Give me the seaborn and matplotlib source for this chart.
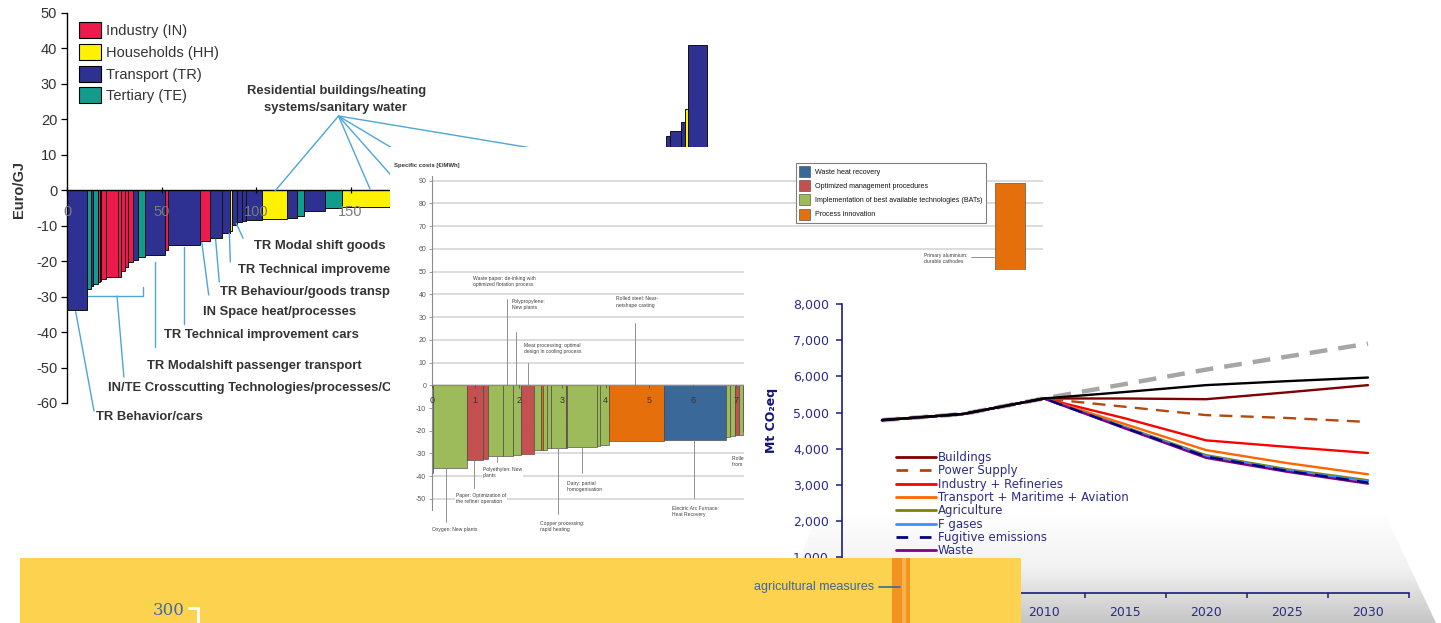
import numpy as np
import pandas as pd
import matplotlib
matplotlib.use("Agg")
import matplotlib.pyplot as plt
import matplotlib.transforms as mtransforms
from matplotlib.patches import Patch, Rectangle, Polygon
from matplotlib.lines import Line2D
from matplotlib.colors import LinearSegmentedColormap
import seaborn as sns

# ---------------- Panel A: sector cost curve (Euro/GJ) ----------------
macc_sector = ["TR", "TE", "TR", "TE", "IN", "HH", "IN", "IN", "IN", "IN", "IN", "IN",
               "TR", "TE", "TR", "IN", "TR", "IN", "TR", "TR", "HH", "TR", "TR", "TR",
               "TR", "HH", "TR", "TE", "TR", "TE", "HH",
               "TR", "IN", "HH", "TE", "TR", "HH", "IN", "TR",
               "TR", "TR", "TR", "HH", "TR"]
macc_potential = [10.5, 2.0, 1.4, 2.3, 1.3, 0.7, 2.5, 6.2, 1.7, 2.3, 1.2, 3.0,
                  2.3, 4.1, 10.1, 2.0, 16.8, 5.3, 6.1, 4.4, 1.3, 2.2, 2.7, 2.1,
                  8.8, 12.9, 5.3, 4.1, 10.9, 8.8, 34.0,
                  20.0, 15.0, 25.0, 18.0, 20.0, 15.0, 12.0, 12.7,
                  2.0, 5.7, 2.4, 1.5, 9.9]
macc_cost = [-33.8, -27.9, -27.0, -26.3, -26.0, -25.5, -25.1, -24.6, -24.4, -22.9, -21.5, -20.2,
             -19.6, -18.8, -18.3, -16.9, -15.5, -14.2, -13.4, -12.0, -11.5, -9.8, -9.0, -8.7,
             -8.5, -8.2, -7.8, -7.2, -5.9, -5.0, -4.6,
             -3.0, -1.5, 0.8, 2.5, 4.5, 6.5, 8.5, 11.0,
             15.2, 16.6, 19.2, 22.8, 41.1]
sector_order = ["IN", "HH", "TR", "TE"]
sector_names = {"IN": "Industry (IN)", "HH": "Households (HH)",
                "TR": "Transport (TR)", "TE": "Tertiary (TE)"}
sector_colors = {"IN": "#EC1A4D", "HH": "#FFF200", "TR": "#2E3192", "TE": "#129C8C"}
macc_xticks = [0, 50, 100, 150, 200, 250, 300]
macc_yticks = list(range(-60, 51, 10))

# ---------------- Panel B: industrial efficiency measures (EUR/MWh) ----------------
eff_measure = ["OMP", "BAT", "OMP", "OMP", "BAT", "BAT", "BAT", "OMP", "BAT", "PI", "BAT", "BAT",
               "BAT", "OMP", "BAT", "BAT", "BAT", "PI", "WHR", "BAT", "BAT", "OMP", "BAT",
               "BAT", "OMP", "BAT", "WHR", "BAT", "OMP", "BAT", "PI",
               "PI"]
eff_potential = [0.02, 0.78, 0.37, 0.13, 0.33, 0.23, 0.19, 0.30, 0.17, 0.05, 0.07, 0.10,
                 0.34, 0.04, 0.67, 0.08, 0.21, 1.26, 1.43, 0.09, 0.11, 0.10, 0.09,
                 0.80, 0.60, 0.90, 0.70, 0.80, 0.60, 0.70, 0.68,
                 0.70]
eff_cost = [-38.8, -36.2, -32.9, -32.4, -31.1, -31.1, -30.7, -30.2, -28.5, -28.5, -28.3, -27.7,
            -27.4, -27.4, -27.2, -26.7, -26.3, -24.5, -24.1, -22.6, -22.4, -21.9, -21.7,
            -20.0, -15.0, -10.0, -4.0, 3.0, 12.0, 25.0, 40.0,
            88.8]
measure_order = ["WHR", "OMP", "BAT", "PI"]
measure_names = {"WHR": "Waste heat recovery", "OMP": "Optimized management procedures",
                 "BAT": "Implementation of best available technologies (BATs)",
                 "PI": "Process innovation"}
measure_colors = {"WHR": "#3A6898", "OMP": "#C4504F", "BAT": "#9DBB5A", "PI": "#E5700B"}
eff_xticks = list(range(0, 15))
eff_yticks = list(range(-50, 91, 10))

# ---------------- Panel C: emission pathways (Mt CO2eq) ----------------
years = [2000, 2005, 2010, 2015, 2020, 2025, 2030]
emis_bau = [4790, 4960, 5390, 5790, 6190, 6550, 6910]
emis_reference = [4790, 4960, 5390, 5570, 5760, 5870, 5970]
emis_buildings = [4790, 4960, 5390, 5390, 5370, 5560, 5760]
emis_power = [4790, 4960, 5390, 5160, 4930, 4850, 4740]
emis_industry = [4790, 4960, 5390, 4840, 4230, 4050, 3880]
emis_transport = [4790, 4960, 5390, 4680, 3960, 3600, 3290]
emis_agriculture = [4790, 4960, 5390, 4600, 3820, 3430, 3125]
emis_fgases = [4790, 4960, 5390, 4585, 3790, 3400, 3090]
emis_fugitive = [4790, 4960, 5390, 4575, 3780, 3385, 3060]
emis_waste = [4790, 4960, 5390, 4560, 3745, 3360, 3030]
wedge_labels = ["Buildings", "Power Supply", "Industry + Refineries",
                "Transport + Maritime + Aviation", "Agriculture", "F gases",
                "Fugitive emissions", "Waste"]
wedge_colors = ["#800000", "#B04A0E", "#FF0000", "#FF6600", "#838300", "#3D8EFF",
                "#000080", "#800080"]
wedge_dashed = [False, True, False, False, False, False, True, False]
emis_yticks = list(range(0, 8001, 1000))

# ---------------- Panel D: agricultural measures strip ----------------
agri_left = [84.36, 85.50, 85.99]
agri_width = [1.14, 0.49, 0.52]
agri_height = [420, 420, 420]
agri_colors = ["#F39320", "#FBB24C", "#F39320"]

# ======================================================================
W, H = 1441, 623
sns.set_theme(style="white")
plt.rcParams['font.family'] = ['Liberation Sans', 'DejaVu Sans']
plt.rcParams['axes.unicode_minus'] = False

fig = plt.figure(figsize=(W / 100, H / 100), dpi=100)
fig.patch.set_facecolor('white')


def rect(x0, y0, x1, y1):
    return [x0 / W, 1 - y1 / H, (x1 - x0) / W, (y1 - y0) / H]


# pixel-layout transform (origin top-left) for annotations
pix = mtransforms.Affine2D().scale(1.0 / W, -1.0 / H).translate(0, 1) + fig.transFigure


def background(x0, y0, x1, y1, color):
    ax = fig.add_axes(rect(x0, y0, x1, y1))
    ax.axis('off')
    ax.add_patch(Rectangle((0, 0), 1, 1, transform=ax.transAxes,
                           facecolor=color, edgecolor='none', zorder=0))
    return ax


def seg(ax, x0, y0, x1, y1, **kw):
    ax.add_artist(Line2D([x0, x1], [y0, y1], transform=pix, clip_on=False, **kw))


# ----------------------------- Panel A ---------------------------------
axA = fig.add_axes(rect(67, 13, 720, 403))
axA.set_facecolor('white')
axA.set_axisbelow(False)
startsA = np.concatenate([[0], np.cumsum(macc_potential)[:-1]])
axA.bar(startsA, macc_cost, width=macc_potential, align='edge',
        color=[sector_colors[s] for s in macc_sector], edgecolor='#111111',
        linewidth=0.7, zorder=1)
axA.set_xlim(0, (720 - 67) / 1.89)
axA.set_ylim(-60, 50)
sns.despine(ax=axA)
axA.spines['bottom'].set_position(('data', 0))
for s in ['left', 'bottom']:
    axA.spines[s].set_color('black')
    axA.spines[s].set_linewidth(1.0)
axA.set_yticks(macc_yticks)
axA.set_xticks(macc_xticks)
axA.tick_params(axis='y', left=True, direction='out', length=4.5, width=0.9,
                color='black', labelsize=10.5, labelcolor='#333333', pad=2.5)
axA.tick_params(axis='x', bottom=True, direction='inout', length=4, width=0.9,
                color='black', labelsize=10.5, labelcolor='#7A7A7A', pad=8.5)
axA.set_ylabel('Euro/GJ', fontsize=10.5, fontweight='bold', color='#333333')
axA.yaxis.set_label_coords((25.5 - 67) / 653, (403 - 190) / 390)

handlesA = [Patch(facecolor=sector_colors[s], edgecolor='black', linewidth=0.8,
                  label=sector_names[s]) for s in sector_order]
legA = axA.legend(handles=handlesA, loc='upper left', bbox_to_anchor=(79 / W, 1 - 22 / H),
                  bbox_transform=fig.transFigure, frameon=False, fontsize=10.5,
                  handlelength=1.5, handleheight=1.31, handletextpad=0.35,
                  labelspacing=0.40, borderpad=0, borderaxespad=0)
for t in legA.get_texts():
    t.set_color('#333333')

lab = dict(fontsize=9.4, fontweight='bold', color='#333333', transform=pix,
           clip_on=False, va='center')
axA.text(337, 91, 'Residential buildings/heating', ha='center', **lab)
axA.text(336, 107.5, 'systems/sanitary water', ha='center', **lab)
for x, y, s in [(254.5, 246, 'TR Modal shift goods'),
                (237.5, 269.5, 'TR Technical improvement trucks'),
                (220, 292.5, 'TR Behaviour/goods transport'),
                (203, 312, 'IN Space heat/processes'),
                (164, 335, 'TR Technical improvement cars'),
                (147, 366, 'TR Modalshift passenger transport'),
                (108.5, 388.5, 'IN/TE Crosscutting Technologies/processes/Cogeneration'),
                (96.5, 417, 'TR Behavior/cars')]:
    axA.text(x, y, s, ha='left', **lab)

blue_line = dict(color='#4DA6D6', lw=1.0, zorder=4)
for (x1, y1) in [(275, 191), (370, 189), (405, 191), (464, 191), (640, 166)]:
    seg(axA, 338.5, 116, x1, y1, **blue_line)
for (x0, y0, x1, y1) in [(75.7, 311.7, 94, 411),
                         (88, 296, 142.5, 296), (142.5, 296, 142.5, 286.5),
                         (117, 296, 123.9, 377),
                         (154.5, 261.7, 154.5, 347),
                         (183.5, 247.3, 183.5, 323.5),
                         (201.8, 242.3, 208.7, 295),
                         (215.6, 239.3, 219.3, 282),
                         (229.4, 233.3, 230.3, 262),
                         (236.2, 223.3, 243.1, 238.3)]:
    seg(axA, x0, y0, x1, y1, **blue_line)

# ----------------------------- Panel B ---------------------------------
bgB = background(390, 147, 1043, 558, 'white')
axB = fig.add_axes(rect(431.7, 176.2, 1043, 510.3))
axB.set_facecolor('none')
axB.set_axisbelow(False)
for v in eff_yticks:
    axB.axhline(v, color='#D9D9D9', lw=1.3, zorder=0)
startsB = np.concatenate([[0], np.cumsum(eff_potential)[:-1]])
axB.bar(startsB, eff_cost, width=eff_potential, align='edge',
        color=[measure_colors[m] for m in eff_measure], edgecolor='#3A3A3A',
        linewidth=0.4, zorder=1)
axB.set_xlim(0, (1043 - 431.7) / 43.5)
axB.set_ylim(-55, 92)
sns.despine(ax=axB)
axB.spines['bottom'].set_position(('data', 0))
for s in ['left', 'bottom']:
    axB.spines[s].set_color('#8C8C8C')
    axB.spines[s].set_linewidth(0.8)
axB.set_yticks(eff_yticks)
axB.set_xticks(eff_xticks)
axB.tick_params(axis='y', left=True, direction='out', length=2, width=0.6,
                color='#8C8C8C', labelsize=5, labelcolor='#555555', pad=2)
axB.tick_params(axis='x', bottom=True, direction='out', length=2, width=0.6,
                color='#555555', labelsize=6.5, labelcolor='#333333', pad=5.5)
axB.text(394, 165, 'Specific costs [€/MWh]', fontsize=4.3, fontweight='bold',
         color='#333333', transform=pix, ha='left', va='center')

handlesB = [Patch(facecolor=measure_colors[m], edgecolor='#404040', linewidth=0.4,
                  label=measure_names[m]) for m in measure_order]
legB = axB.legend(handles=handlesB, loc='upper left', bbox_to_anchor=(796 / W, 1 - 163 / H),
                  bbox_transform=fig.transFigure, frameon=True, fontsize=5.1,
                  handlelength=1.55, handleheight=2.0, handletextpad=0.7,
                  labelspacing=0.45, borderpad=0.45, borderaxespad=0,
                  fancybox=False, edgecolor='#808080', framealpha=1)
legB.get_frame().set_linewidth(0.8)
for t in legB.get_texts():
    t.set_color('#111111')

note = dict(fontsize=3.6, color='#404040', transform=pix, ha='left', va='top',
            linespacing=1.35, clip_on=False,
            bbox=dict(facecolor='white', edgecolor='none', pad=0.6))
for x, y, s in [(473.3, 276, 'Waste paper: de-inking with\noptimized flotation process'),
                (512, 299, 'Polypropylene:\nNew plants'),
                (523.8, 343, 'Meat processing: optimal\ndesign in cooling process'),
                (616.4, 296.5, 'Rolled steel: Near-\nnetshape casting'),
                (923.7, 252.5, 'Primary aluminium:\ndurable cathodes'),
                (482.7, 466.5, 'Polyethylen: New\nplants'),
                (456, 493, 'Paper: Optimization of\nthe refiner operation'),
                (431.7, 527.5, 'Oxygen: New plants'),
                (540, 520.5, 'Copper processing:\nrapid heating'),
                (566.7, 481, 'Dairy: partial\nhomogenisation'),
                (671.7, 506, 'Electric Arc Furnace:\nHeat Recovery'),
                (732.3, 456, 'Rolled steel: Hot\nfrom slabs')]:
    axB.text(x, y, s, **note)
grey_line = dict(color='#808080', lw=0.6, zorder=3)
for (x0, y0, x1, y1) in [(507, 299, 507, 385), (516, 332, 516, 385),
                         (528, 363, 528, 385), (635, 323, 635, 385),
                         (496.7, 456, 496.7, 462), (474, 460, 474, 488),
                         (446, 468, 446, 522), (558.3, 448, 558.3, 514),
                         (581.7, 447, 581.7, 473), (694, 440, 694, 498),
                         (971, 257, 994, 257)]:
    seg(axB, x0, y0, x1, y1, **grey_line)

# ----------------------------- Panel C ---------------------------------
bgC = background(743.5, 270, 1441, 623, 'white')
floor_cmap = LinearSegmentedColormap.from_list('floor', ['#FFFFFF', '#F2F2F2', '#C6C6C6'])
im = bgC.imshow(np.linspace(0, 1, 200)[:, None], extent=(743.5, 1441, 623, 512),
                cmap=floor_cmap, aspect='auto', origin='upper', zorder=1,
                interpolation='bilinear')
floor = Polygon([(818, 512), (1384, 512), (1436, 623), (776, 623)], closed=True,
                transform=bgC.transData)
im.set_clip_path(floor)
bgC.set_xlim(743.5, 1441)
bgC.set_ylim(623, 270)

axC = fig.add_axes(rect(841.5, 304.3, 1408.5, 593))
axC.set_facecolor('none')
wedge_values = [emis_buildings, emis_power, emis_industry, emis_transport,
                emis_agriculture, emis_fgases, emis_fugitive, emis_waste]
dfC = pd.DataFrame({
    'year': np.tile(years, len(wedge_labels)),
    'value': np.concatenate(wedge_values),
    'sector': np.repeat(wedge_labels, len(years)),
})
palC = dict(zip(wedge_labels, wedge_colors))
dashC = {n: ((5.5, 3.5) if d else '') for n, d in zip(wedge_labels, wedge_dashed)}
draw_order = ["Buildings", "Power Supply", "Industry + Refineries",
              "Transport + Maritime + Aviation", "Agriculture", "F gases", "Waste",
              "Fugitive emissions"]
sns.lineplot(x=years, y=emis_bau, ax=axC, color='#A6A6A6', lw=3.2,
             linestyle=(0, (4, 2.5)), zorder=2)
sns.lineplot(data=dfC, x='year', y='value', hue='sector', hue_order=draw_order,
             style='sector', style_order=draw_order, palette=palC, dashes=dashC,
             lw=1.7, legend=False, ax=axC, zorder=3)
sns.lineplot(x=years, y=emis_reference, ax=axC, color='black', lw=1.7, zorder=4)
axC.set_xlim(years[0] - 2.5, years[-1] + 2.5)
axC.set_ylim(0, 8000)
sns.despine(ax=axC)
navy = '#1C1C80'
for s in ['left', 'bottom']:
    axC.spines[s].set_color(navy)
    axC.spines[s].set_linewidth(1.2)
axC.set_yticks(emis_yticks)
axC.set_yticklabels([f'{v:,}' for v in emis_yticks])
axC.set_xticks([y + 2.5 for y in years])
axC.set_xticklabels([])
axC.set_xticks(years, minor=True)
axC.set_xticklabels([str(y) for y in years], minor=True)
axC.tick_params(axis='x', which='major', bottom=True, direction='out', length=3.5,
                width=1.1, color=navy)
axC.tick_params(axis='x', which='minor', bottom=True, length=0, labelsize=9,
                labelcolor='#2B2B86', pad=9.5)
axC.tick_params(axis='y', left=True, direction='out', length=4, width=1.1, color=navy,
                labelsize=9, labelcolor='#2B2B86', pad=5)
for lbl in axC.get_yticklabels() + axC.get_xticklabels(minor=True):
    lbl.set_fontfamily('DejaVu Sans')
axC.set_ylabel('Mt CO₂eq', fontsize=9, fontweight='bold', color='#14147A',
               fontfamily='DejaVu Sans')
axC.yaxis.set_label_coords((778 - 841.5) / 567, (593 - 420) / 288.7)

handlesC = [Line2D([0], [0], color=c, lw=2.0,
                   linestyle=((0, (4.2, 4.2)) if d else '-'))
            for c, d in zip(wedge_colors, wedge_dashed)]
legC = axC.legend(handlesC, wedge_labels, loc='upper left',
                  bbox_to_anchor=(896 / W, 1 - 451 / H), bbox_transform=fig.transFigure,
                  frameon=False, prop={'family': 'DejaVu Sans', 'size': 8.5},
                  handlelength=3.4, handletextpad=0.15, labelspacing=0.03,
                  borderpad=0, borderaxespad=0)
for t in legC.get_texts():
    t.set_color('#2B2B86')

# ----------------------------- Panel D ---------------------------------
bgD = background(20, 558, 1021, 623, '#FDD24F')
axD = fig.add_axes(rect(198, 558, 1021, 623))
axD.set_facecolor('none')
axD.bar(agri_left, agri_height, width=agri_width, align='edge', color=agri_colors,
        linewidth=0, zorder=1)
axD.set_xlim(0, 100)
axD.set_ylim(280, 366.7)
for s in ['top', 'right', 'bottom']:
    axD.spines[s].set_visible(False)
axD.spines['left'].set_color('white')
axD.spines['left'].set_linewidth(2)
axD.spines['left'].set_bounds(280, 300)
axD.set_xticks([])
axD.set_yticks([300])
axD.set_yticklabels(['300'], fontfamily='DejaVu Serif')
axD.tick_params(axis='y', left=True, direction='out', length=7, width=2, color='white',
                labelsize=12, labelcolor='#3D6CA6', pad=2.5)
axD.text(874, 587, 'agricultural measures', transform=pix, ha='right', va='center',
         fontsize=9, color='#3A69A3', clip_on=False)
seg(axD, 879, 587, 900, 587, color='#3A69A3', lw=1.2, zorder=3)

fig.savefig('out.png', dpi=100, facecolor='white')
